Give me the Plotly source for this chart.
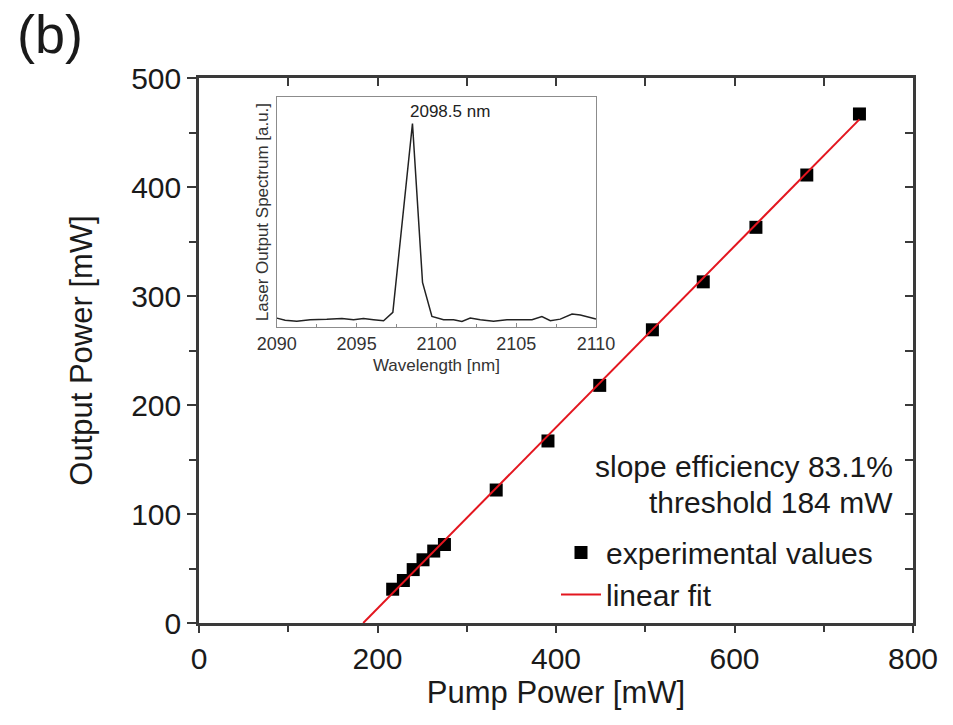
import plotly.graph_objects as go

# Laser output vs. pump power (measured)
pump_mw = [217, 229, 240, 251, 263, 275, 333, 391, 449, 508, 565, 624, 681, 740]
output_mw = [31, 39, 49, 58, 66, 72, 122, 167, 218, 269, 313, 363, 411, 467]

# Linear fit parameters
slope_eff = 0.831
threshold_mw = 184

# Laser output spectrum (normalised)
wavelength_nm = [2090.0, 2090.52, 2091.25, 2092.09, 2093.13, 2094.08, 2094.81, 2095.43,
                 2096.06, 2096.69, 2097.27, 2098.5, 2099.13, 2099.72, 2100.45, 2101.08,
                 2101.6, 2102.12, 2102.75, 2103.58, 2104.42, 2105.26, 2105.99, 2106.61,
                 2107.14, 2107.76, 2108.5, 2109.02, 2109.54, 2110.0]
spectrum_au = [0.044, 0.033, 0.028, 0.036, 0.038, 0.042, 0.036, 0.042,
               0.036, 0.031, 0.072, 1.0, 0.219, 0.052, 0.036, 0.036,
               0.028, 0.044, 0.036, 0.028, 0.036, 0.036, 0.036, 0.052,
               0.031, 0.039, 0.064, 0.059, 0.047, 0.039]
peak_label = "2098.5 nm"

fit_x = [threshold_mw, max(pump_mw)]
fit_y = [slope_eff * (x - threshold_mw) for x in fit_x]

FONT = "Liberation Sans, Arial, sans-serif"
AX = "#3a3a3a"
TXT = "#1a1a1a"
INSET = "#8c8c8c"

fig = go.Figure()

fig.add_trace(go.Scatter(
    x=pump_mw, y=output_mw, mode="markers", name="experimental values",
    marker=dict(symbol="square", size=13, color="black"),
    xaxis="x", yaxis="y",
))
fig.add_trace(go.Scatter(
    x=fit_x, y=fit_y, mode="lines", name="linear fit",
    line=dict(color="#e3161f", width=2),
    xaxis="x2", yaxis="y2",
))
fig.add_trace(go.Scatter(
    x=wavelength_nm, y=spectrum_au, mode="lines", showlegend=False,
    line=dict(color="#222222", width=1.5),
    xaxis="x3", yaxis="y3",
))

main_x = dict(range=[0, 800], domain=[0, 1])
main_y = dict(range=[0, 500], domain=[0, 1])

fig.update_layout(
    width=953, height=725,
    margin=dict(l=199, r=40, t=78, b=102),
    paper_bgcolor="white", plot_bgcolor="white",
    font=dict(family=FONT, color=TXT, size=30),
    xaxis=dict(
        **main_x, anchor="y", showgrid=False, zeroline=False,
        showline=True, linecolor=AX, linewidth=2.5,
        ticks="outside", ticklen=7, tickwidth=2, tickcolor=AX,
        dtick=200, tick0=0, tickfont=dict(size=30),
        minor=dict(dtick=100, ticks="outside", ticklen=6, tickwidth=2, tickcolor=AX),
        title=dict(text="Pump Power [mW]", font=dict(size=31), standoff=4),
    ),
    yaxis=dict(
        **main_y, anchor="x", showgrid=False, zeroline=False,
        showline=True, linecolor=AX, linewidth=2.5,
        ticks="outside", ticklen=9, tickwidth=2, tickcolor=AX,
        dtick=100, tick0=0, tickfont=dict(size=30),
        minor=dict(dtick=50, ticks="outside", ticklen=7, tickwidth=2, tickcolor=AX),
        title=dict(text="Output Power [mW]", font=dict(size=31), standoff=30),
    ),
    xaxis2=dict(
        **main_x, overlaying="x", side="top", anchor="y2", showgrid=False,
        zeroline=False, showline=True, linecolor=AX, linewidth=2.5,
        ticks="inside", ticklen=8, tickwidth=2, tickcolor=AX,
        dtick=100, showticklabels=False,
    ),
    yaxis2=dict(
        **main_y, overlaying="y", side="right", anchor="x2", showgrid=False,
        zeroline=False, showline=True, linecolor=AX, linewidth=2.5,
        ticks="inside", ticklen=8, tickwidth=2, tickcolor=AX,
        dtick=50, showticklabels=False,
    ),
    xaxis3=dict(
        domain=[0.109, 0.556], anchor="y3", range=[2090, 2110],
        showgrid=False, zeroline=False, showline=True, linecolor=INSET,
        linewidth=1, mirror=True, ticks="inside", ticklen=4, tickcolor=INSET,
        dtick=5, tick0=2090, tickfont=dict(size=18, color="#333333"),
        minor=dict(dtick=2.5, ticks="inside", ticklen=3, tickcolor=INSET),
        title=dict(text="Wavelength [nm]", font=dict(size=17, color="#333333"), standoff=6),
    ),
    yaxis3=dict(
        domain=[0.543, 0.965], anchor="x3", range=[0, 1.13],
        showgrid=False, zeroline=False, showline=True, linecolor=INSET,
        linewidth=1, mirror=True, ticks="", showticklabels=False,
        title=dict(text="Laser Output Spectrum [a.u.]", font=dict(size=17, color="#333333"),
                   standoff=2),
    ),
    legend=dict(
        x=0.5, y=0.177, xanchor="left", yanchor="top",
        bgcolor="rgba(0,0,0,0)", font=dict(size=30, color=TXT),
        tracegroupgap=0, itemwidth=40,
    ),
    showlegend=True,
)

fig.add_annotation(
    xref="x3", yref="y3", x=2098.5, y=1.0, text=peak_label, showarrow=False,
    yanchor="bottom", xanchor="left", xshift=-4, yshift=1,
    font=dict(size=17, color="#222222"),
)
fig.add_annotation(
    xref="paper", yref="paper", x=0.975, y=0.288, xanchor="right", yanchor="middle",
    text=f"slope efficiency {slope_eff * 100:.1f}%", showarrow=False,
    font=dict(size=30, color=TXT),
)
fig.add_annotation(
    xref="paper", yref="paper", x=0.975, y=0.222, xanchor="right", yanchor="middle",
    text=f"threshold {threshold_mw} mW", showarrow=False,
    font=dict(size=30, color=TXT),
)
fig.add_annotation(
    xref="paper", yref="paper", x=-0.258, y=1.14, xanchor="left", yanchor="top",
    text="(b)", showarrow=False, font=dict(size=54, color=TXT),
)

fig.write_html("out.html")
